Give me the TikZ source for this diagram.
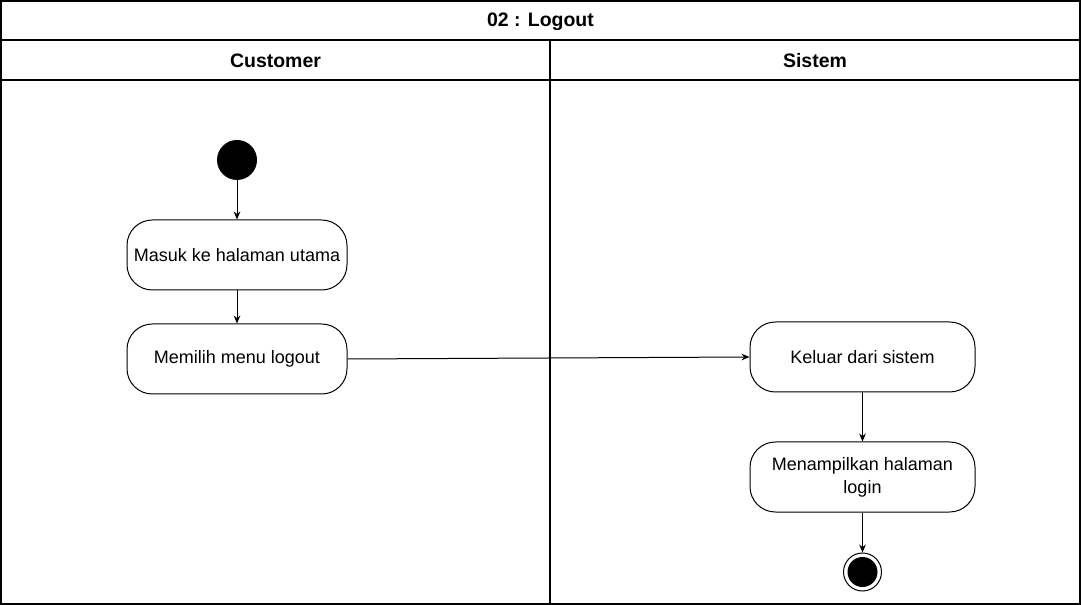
\documentclass[tikz,border=0pt]{standalone}
\usepackage{fontspec}
\setmainfont{Liberation Sans}
\usetikzlibrary{arrows.meta}
\begin{document}
\begin{tikzpicture}[x=0.75pt,y=-0.75pt,
  txt/.style={font=\fontsize{13.5}{17.25}\selectfont},
  hdr/.style={font=\fontsize{14.6}{17}\selectfont\bfseries},
  act/.style={draw,line width=0.75pt,rounded corners=19pt,minimum width=165pt,minimum height=52.5pt,inner sep=2pt,align=center,txt},
  flow/.style={draw,line width=0.75pt,-{Stealth[length=6pt,width=5pt]}},
  frame/.style={draw,line width=0.8pt}]
\useasboundingbox (0,0) rectangle (1081,605);
% frame and lanes
\draw[frame] (1,1) rectangle (1080,604);
\draw[frame] (1,40) -- (1080,40);
\draw[frame] (1,80) -- (1080,80);
\draw[frame] (550,40) -- (550,604);
\node[hdr] (title) at (540.5,21.5) {02 : Logout};
\node[hdr] (lane1) at (275.5,61) {Customer};
\node[hdr] (lane2) at (815,61) {Sistem};
% nodes
\node[circle,fill=black,minimum size=30pt,inner sep=0pt] (start) at (237,160) {};
\node[act] (a1) at (237,255) {Masuk ke halaman utama};
\node[act] (a2) at (237,359) {Memilih menu logout};
\node[act,minimum width=168.75pt] (b1) at (862.5,357) {Keluar dari sistem};
\node[act,minimum width=168.75pt] (b2) at (862.5,477) {Menampilkan halaman\\login};
\node[circle,draw,line width=0.75pt,minimum size=28.5pt,inner sep=0pt] (end) at (862.5,572) {};
\node[circle,fill=black,minimum size=22.5pt,inner sep=0pt] (endin) at (end.center) {};
% connectors
\draw[flow] (start) -- (a1);
\draw[flow] (a1) -- (a2);
\draw[flow] (a2.east) -- (b1.west);
\draw[flow] (b1) -- (b2);
\draw[flow] (b2) -- (end);
\end{tikzpicture}
\end{document}
